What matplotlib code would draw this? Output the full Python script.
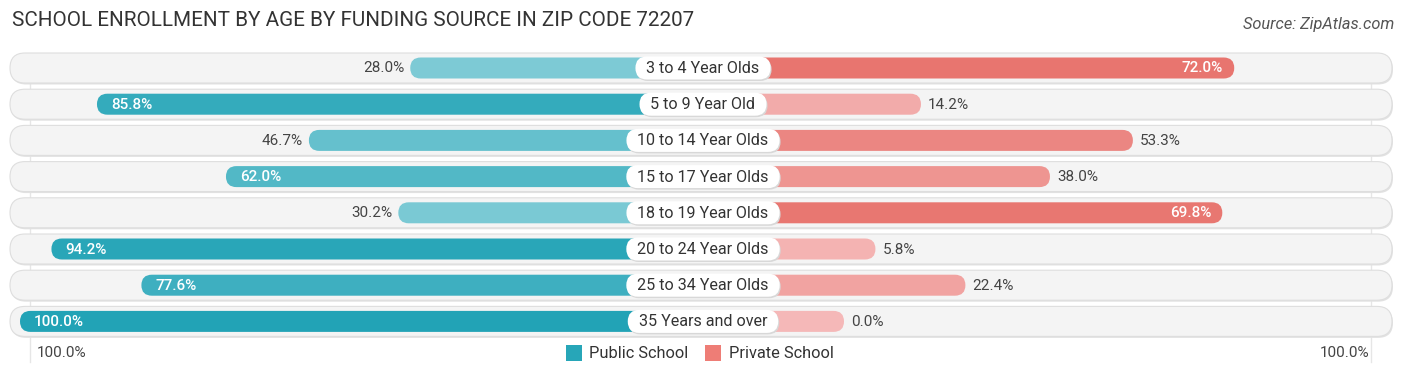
import matplotlib
matplotlib.use("Agg")
import matplotlib.pyplot as plt
from matplotlib.patches import FancyBboxPatch, Rectangle
import numpy as np

plt.rcParams['font.family'] = ['Roboto', 'DejaVu Sans']

ages = ["3 to 4 Year Olds", "5 to 9 Year Old", "10 to 14 Year Olds", "15 to 17 Year Olds",
        "18 to 19 Year Olds", "20 to 24 Year Olds", "25 to 34 Year Olds", "35 Years and over"]
public = [28.0, 85.8, 46.7, 62.0, 30.2, 94.2, 77.6, 100.0]
private = [72.0, 14.2, 53.3, 38.0, 69.8, 5.8, 22.4, 0.0]

title = "SCHOOL ENROLLMENT BY AGE BY FUNDING SOURCE IN ZIP CODE 72207"
source = "Source: ZipAtlas.com"

W, H = 1406, 377
cx = 703
off = 141      # px from center at 0%
k = 5.42       # px per percent
row0, step = 68, 36.2
bar_h, bg_h = 21, 30

pub_dark, pub_light = np.array([0x22, 0xa3, 0xb6]) / 255, np.array([0xa0, 0xd9, 0xe1]) / 255
pri_dark, pri_light = np.array([0xe3, 0x5b, 0x52]) / 255, np.array([0xf5, 0xb8, 0xb8]) / 255


def shade(v, dark, light):
    t = v / 100.0
    return tuple(light + (dark - light) * t)


fig = plt.figure(figsize=(W / 100, H / 100), dpi=100)
ax = fig.add_axes([0, 0, 1, 1])
ax.set_xlim(0, W)
ax.set_ylim(H, 0)
ax.axis('off')

fig.text(12 / W, 1 - 21 / H, title, fontsize=14.9, color='#333333', va='center', ha='left')
fig.text(1394 / W, 1 - 24 / H, source, fontsize=11.8, color='#555555', va='center', ha='right',
         style='italic')

# faint vertical guides
ax.plot([30, 30], [60, 362], color='#e6e6e6', lw=1, zorder=0)
ax.plot([1371, 1371], [60, 362], color='#e6e6e6', lw=1, zorder=0)

renderer = fig.canvas.get_renderer()

for i, (lab, pv, rv) in enumerate(zip(ages, public, private)):
    y = row0 + i * step
    # background pill with soft shadow
    ax.add_patch(FancyBboxPatch((11, y - bg_h / 2 + 1.5), 1382, bg_h, boxstyle="round,pad=0,rounding_size=15",
                                fc='#e2e2e2', ec='none', zorder=1))
    ax.add_patch(FancyBboxPatch((10, y - bg_h / 2), 1382, bg_h, boxstyle="round,pad=0,rounding_size=15",
                                fc='#f4f4f4', ec='#dedede', lw=0.8, zorder=1))

    # public bar (left)
    lw_ = off + k * pv
    ax.add_patch(FancyBboxPatch((cx - lw_, y - bar_h / 2), lw_, bar_h,
                                boxstyle="round,pad=0,rounding_size=10.5",
                                fc=shade(pv, pub_dark, pub_light), ec='none', zorder=2))
    # private bar (right)
    rw_ = off + k * rv
    ax.add_patch(FancyBboxPatch((cx, y - bar_h / 2), rw_, bar_h,
                                boxstyle="round,pad=0,rounding_size=10.5",
                                fc=shade(rv, pri_dark, pri_light), ec='none', zorder=2))

    # value labels
    if pv > 55:
        ax.text(cx - lw_ + 14, y + 0.5, f"{pv:.1f}%", color='white', fontsize=11, ha='left',
                va='center', fontweight='medium', zorder=4)
    else:
        ax.text(cx - lw_ - 6, y + 0.5, f"{pv:.1f}%", color='#444444', fontsize=11, ha='right',
                va='center', zorder=4)
    if rv > 55:
        ax.text(cx + rw_ - 11, y + 0.5, f"{rv:.1f}%", color='white', fontsize=11, ha='right',
                va='center', fontweight='medium', zorder=4)
    else:
        ax.text(cx + rw_ + 7, y + 0.5, f"{rv:.1f}%", color='#444444', fontsize=11, ha='left',
                va='center', zorder=4)

    # category label pill
    t = ax.text(cx, y + 0.5, lab, fontsize=11.6, color='#333333', ha='center', va='center', zorder=6)
    bb = t.get_window_extent(renderer)
    tw = bb.width + 22
    ph = 23
    ax.add_patch(FancyBboxPatch((cx - tw / 2 + 1, y - ph / 2 + 1.5), tw, ph,
                                boxstyle="round,pad=0,rounding_size=11.5", fc='#d8d8d8', ec='none', zorder=4))
    ax.add_patch(FancyBboxPatch((cx - tw / 2, y - ph / 2), tw, ph,
                                boxstyle="round,pad=0,rounding_size=11.5", fc='white', ec='none', zorder=5))

# bottom axis labels and legend
ax.text(37, 353, "100.0%", fontsize=11, color='#444444', ha='left', va='center')
ax.text(1369, 353, "100.0%", fontsize=11, color='#444444', ha='right', va='center')

ax.add_patch(Rectangle((566, 345), 16, 16, fc='#27a6b8', ec='none'))
ax.text(589, 353, "Public School", fontsize=11.8, color='#333333', ha='left', va='center')
ax.add_patch(Rectangle((705, 345), 16, 16, fc='#ee7d76', ec='none'))
ax.text(729, 353, "Private School", fontsize=11.8, color='#333333', ha='left', va='center')

fig.savefig("out.png", dpi=100)
